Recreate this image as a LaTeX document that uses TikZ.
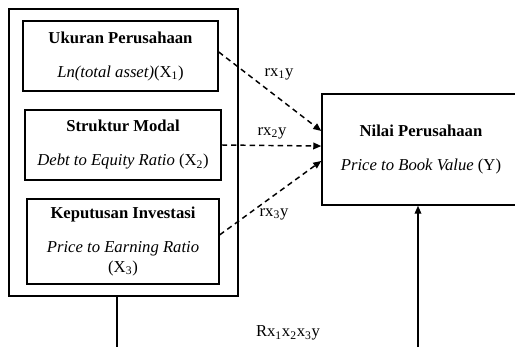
\documentclass[tikz,border=0pt]{standalone}
\usepackage{fontspec}
\setmainfont{Liberation Serif}
\usetikzlibrary{arrows.meta}

\tikzset{
  kotak/.style={draw, line width=1.1pt, inner sep=0pt, align=center,
    font=\fontsize{12.5}{14.5}\selectfont},
  jalur/.style={dashed, dash pattern=on 4pt off 3pt, line width=1.1pt,
    -{Triangle[length=6pt,width=5pt]}},
  label/.style={font=\fontsize{12.5}{14.5}\selectfont}
}

\begin{document}
\begin{tikzpicture}[x=0.75pt, y=-0.75pt]
  \clip (0, 0) rectangle (515, 347);
  \node[kotak, minimum width=171.75pt, minimum height=215.25pt] (variabelx) at (123.5, 152.5) {};
  \node[kotak, minimum width=146.25pt, minimum height=52.5pt] (ukuran) at (120.5, 56)
    {\textbf{Ukuran Perusahaan}\\[11pt]\textit{Ln(total asset)}(X\textsubscript{1})};
  \node[kotak, minimum width=147pt, minimum height=52.5pt] (struktur) at (123, 145)
    {\textbf{Struktur Modal}\\[11pt]\textit{Debt to Equity Ratio} (X\textsubscript{2})};
  \node[kotak, minimum width=144pt, minimum height=63.75pt] (keputusan) at (123, 241.5)
    {\textbf{Keputusan Investasi}\\[11pt]\textit{Price to Earning Ratio}\\(X\textsubscript{3})};
  \node[kotak, minimum width=148.5pt, minimum height=83.25pt] (nilai) at (421, 149.5)
    {\textbf{Nilai Perusahaan}\\[11pt]\textit{Price to Book Value} (Y)};
  \draw[jalur] ([yshift=3pt]ukuran.east) -- ([yshift=13.9pt]nilai.west);
  \draw[jalur] (struktur.east) -- ([yshift=2.6pt]nilai.west);
  \draw[jalur] ([yshift=5pt]keputusan.east) -- ([yshift=-8.6pt]nilai.west);
  \node[label] (rx1y) at (279, 74) {rx\textsubscript{1}y};
  \node[label] (rx2y) at (272, 133) {rx\textsubscript{2}y};
  \node[label] (rx3y) at (274, 214) {rx\textsubscript{3}y};
  \coordinate (bawahx) at (117, 347);
  \coordinate (bawahy) at (418, 347);
  \draw[line width=1pt] (variabelx.south -| bawahx) -- (bawahx);
  \draw[line width=1pt, -{Triangle[length=6pt,width=5pt]}] (bawahy) -- (nilai.south -| bawahy);
  \node[label] (rx123y) at (288, 333) {Rx\textsubscript{1}x\textsubscript{2}x\textsubscript{3}y};
\end{tikzpicture}
\end{document}
